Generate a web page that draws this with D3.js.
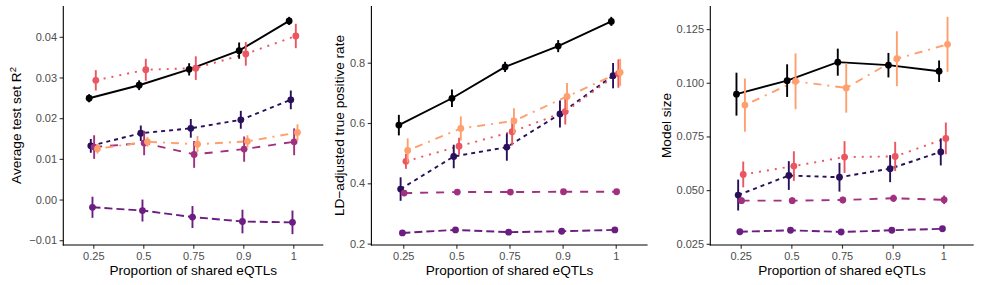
<!DOCTYPE html>
<html>
<head>
<meta charset="utf-8">
<script src="https://cdn.jsdelivr.net/npm/d3@7"></script>
<style>
  body { margin: 0; background: #fff; }
  svg { display: block; font-family: "Liberation Sans", Arial, sans-serif; }
</style>
</head>
<body>
<div id="app"></div>
<script>
// shared eQTL proportion (x categories)
const categories = ["0.25", "0.5", "0.75", "0.9", "1"];

// one entry per method, in dodge/legend order
const seriesKeys = ["m1", "m2", "m3", "m4", "m5", "m6"];
const magmaStops = [0, 0.16, 0.32, 0.45, 0.64, 0.8];
const dashes = ["none", "4,4", "8,4", "8,8", "2,6", "2,6,8,6"];

// panel 1: average test set R^2 (mean, half-width of error bar)
const r2Mean = [
  [0.0249, 0.0281, 0.0320, 0.0366, 0.0439],
  [0.0132, 0.0163, 0.0175, 0.0196, 0.0245],
  [-0.0019, -0.0027, -0.0043, -0.0054, -0.0056],
  [0.0129, 0.0139, 0.0111, 0.0124, 0.0142],
  [0.0293, 0.0319, 0.0323, 0.0358, 0.0402],
  [0.0125, 0.0142, 0.0136, 0.0143, 0.0165]
];
const r2Err = [
  [0.0010, 0.0012, 0.0015, 0.0020, 0.0010],
  [0.0017, 0.0019, 0.0023, 0.0022, 0.0023],
  [0.0026, 0.0027, 0.0027, 0.0029, 0.0029],
  [0.0029, 0.0030, 0.0033, 0.0031, 0.0033],
  [0.0025, 0.0027, 0.0029, 0.0029, 0.0030],
  [0.0012, 0.0012, 0.0020, 0.0015, 0.0020]
];

// panel 2: LD-adjusted true positive rate
const tprMean = [
  [0.593, 0.682, 0.786, 0.855, 0.937],
  [0.381, 0.489, 0.520, 0.630, 0.757],
  [0.2355, 0.2456, 0.238, 0.241, 0.2456],
  [0.3675, 0.371, 0.371, 0.372, 0.372],
  [0.473, 0.523, 0.571, 0.638, 0.764],
  [0.509, 0.582, 0.607, 0.688, 0.768]
];
const tprErr = [
  [0.034, 0.029, 0.017, 0.020, 0.015],
  [0.039, 0.039, 0.045, 0.045, 0.042],
  [0.004, 0.004, 0.004, 0.004, 0.004],
  [0.005, 0.005, 0.005, 0.005, 0.005],
  [0.025, 0.028, 0.045, 0.043, 0.047],
  [0.040, 0.040, 0.042, 0.045, 0.045]
];

// panel 3: model size
const sizeMean = [
  [0.0947, 0.1010, 0.1096, 0.1082, 0.1054],
  [0.0477, 0.0568, 0.0560, 0.0600, 0.0678],
  [0.0306, 0.0313, 0.0305, 0.0313, 0.0320],
  [0.0451, 0.0451, 0.0454, 0.0462, 0.0455],
  [0.0573, 0.0612, 0.0654, 0.0657, 0.0741],
  [0.0896, 0.1007, 0.0976, 0.1112, 0.1179]
];
const sizeErr = [
  [0.0100, 0.0076, 0.0063, 0.0057, 0.0050],
  [0.0072, 0.0067, 0.0067, 0.0063, 0.0063],
  [0.0010, 0.0010, 0.0010, 0.0010, 0.0010],
  [0.0015, 0.0015, 0.0015, 0.0017, 0.0020],
  [0.0060, 0.0069, 0.0074, 0.0068, 0.0074],
  [0.0124, 0.0130, 0.0115, 0.0128, 0.0128]
];

const W = 981, H = 285;
const svg = d3.select("#app").append("svg")
  .attr("width", W).attr("height", H);

// magma palette, trimmed at the light end
const color = d3.scaleOrdinal()
  .domain(seriesKeys)
  .range(magmaStops.map(t => d3.interpolateMagma(t)));

const panels = [
  { means: r2Mean, errs: r2Err, left: 63.3, right: 323.3, fmt: ".2f",
    ticks: [-0.01, 0, 0.01, 0.02, 0.03, 0.04], titleX: 16, title: "r2" },
  { means: tprMean, errs: tprErr, left: 371.4, right: 647.6, fmt: ".1f",
    ticks: [0.2, 0.4, 0.6, 0.8], titleX: 339, title: "LD\u2212adjusted true positive rate" },
  { means: sizeMean, errs: sizeErr, left: 710.3, right: 973.7, fmt: ".3f",
    ticks: [0.025, 0.05, 0.075, 0.1, 0.125], titleX: 666, title: "Model size" }
];

const plotTop = 6, plotBottom = 245;

panels.forEach(p => {
  const g = svg.append("g");

  // discrete x with ggplot-like 0.6 expansion
  const x = d3.scalePoint().domain(categories)
    .range([p.left, p.right]).padding(0.6);
  const dodge = d3.scalePoint().domain(seriesKeys)
    .range([-x.step() * 0.1, x.step() * 0.1]).padding(0.5);

  const lo = d3.min(p.means.flatMap((row, i) => row.map((v, j) => v - p.errs[i][j])));
  const hi = d3.max(p.means.flatMap((row, i) => row.map((v, j) => v + p.errs[i][j])));
  const pad = (hi - lo) * 0.05;
  const y = d3.scaleLinear().domain([lo - pad, hi + pad]).range([plotBottom, plotTop]);

  const px = (k, j) => x(categories[j]) + dodge(k);

  // lines
  seriesKeys.forEach((k, i) => {
    const line = d3.line().x((v, j) => px(k, j)).y(v => y(v));
    g.append("path")
      .attr("d", line(p.means[i]))
      .attr("fill", "none")
      .attr("stroke", color(k))
      .attr("stroke-width", 1.9)
      .attr("stroke-dasharray", dashes[i]);
  });

  // point ranges
  seriesKeys.forEach((k, i) => {
    const s = g.append("g");
    s.selectAll("line").data(p.means[i]).enter().append("line")
      .attr("x1", (v, j) => px(k, j)).attr("x2", (v, j) => px(k, j))
      .attr("y1", (v, j) => y(v - p.errs[i][j]))
      .attr("y2", (v, j) => y(v + p.errs[i][j]))
      .attr("stroke", color(k)).attr("stroke-width", 1.9);
    s.selectAll("circle").data(p.means[i]).enter().append("circle")
      .attr("cx", (v, j) => px(k, j)).attr("cy", v => y(v))
      .attr("r", 3.4).attr("fill", color(k));
  });

  // axes
  const xa = g.append("g").attr("transform", `translate(0,${plotBottom})`)
    .call(d3.axisBottom(x).tickSize(3.7).tickPadding(3));
  const ya = g.append("g").attr("transform", `translate(${p.left},0)`)
    .call(d3.axisLeft(y).tickValues(p.ticks).tickFormat(d3.format(p.fmt))
      .tickSize(3.7).tickPadding(2.5));
  [xa, ya].forEach(a => {
    a.select(".domain").remove();
    a.selectAll(".tick line").attr("stroke", "#333333").attr("stroke-width", 1.1);
    a.selectAll(".tick text").attr("fill", "#4d4d4d")
      .style("font-size", "11px").style("font-family", "Liberation Sans, Arial, sans-serif");
  });
  g.append("line").attr("x1", p.left).attr("x2", p.left)
    .attr("y1", plotTop).attr("y2", plotBottom + 0.5)
    .attr("stroke", "#000").attr("stroke-width", 1.1);
  g.append("line").attr("x1", p.left - 0.5).attr("x2", p.right)
    .attr("y1", plotBottom).attr("y2", plotBottom)
    .attr("stroke", "#000").attr("stroke-width", 1.1);

  // titles
  g.append("text")
    .attr("x", (p.left + p.right) / 2).attr("y", 275)
    .attr("text-anchor", "middle")
    .style("font-size", "13.6px")
    .text("Proportion of shared eQTLs");

  const yt = g.append("text")
    .attr("transform", `translate(${p.titleX},${(plotTop + plotBottom) / 2}) rotate(-90)`)
    .attr("text-anchor", "middle").attr("dy", "0.35em")
    .style("font-size", "13.6px");
  if (p.title === "r2") {
    yt.append("tspan").text("Average test set R");
    yt.append("tspan").attr("dy", "-0.5em").style("font-size", "9.5px").text("2");
  } else {
    yt.text(p.title);
  }
});
</script>
</body>
</html>
